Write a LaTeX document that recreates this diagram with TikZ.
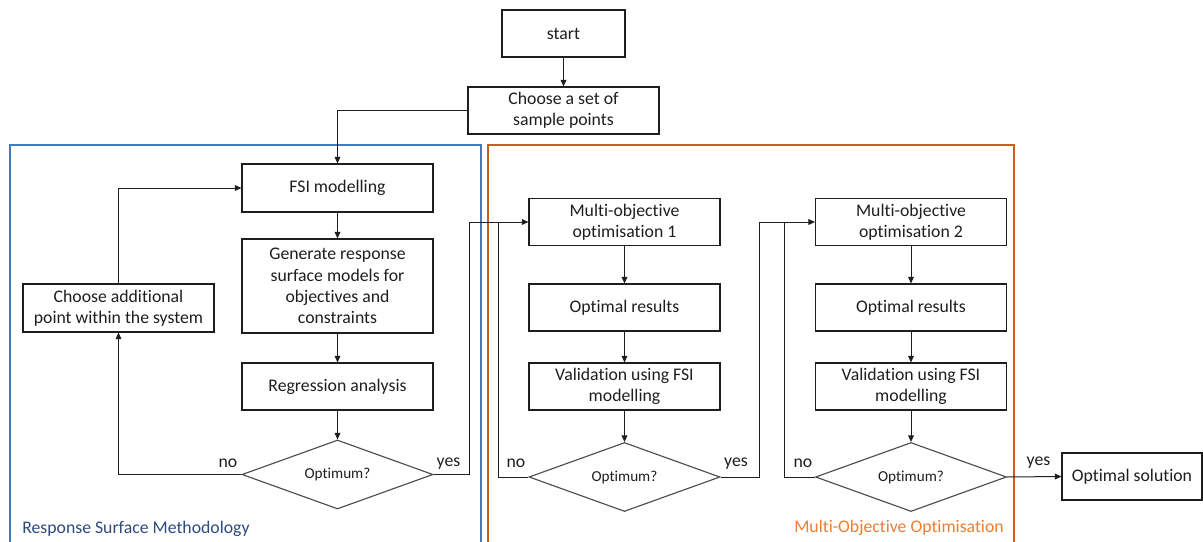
\documentclass[tikz,border=0pt]{standalone}
\usepackage{fontspec}
\setmainfont{Carlito}[Ligatures=NoCommon]
\usetikzlibrary{arrows.meta,shapes.geometric}
\definecolor{rsmframe}{HTML}{3E7CC2}
\definecolor{rsmtext}{HTML}{2F4A7C}
\definecolor{mooframe}{HTML}{C8601A}
\definecolor{mootext}{HTML}{ED7D31}
\definecolor{ink}{HTML}{1E1E1E}
\begin{document}
\begin{tikzpicture}[x=0.75pt,y=-0.75pt,
  every node/.style={text=ink},
  txt/.style={font=\fontsize{13.3}{16}\selectfont, align=center},
  procbox/.style={txt, draw=ink, line width=0.85pt, rectangle, inner sep=0pt,
    minimum width=191*0.75pt, minimum height=47*0.75pt},
  decision/.style={draw=black!70, line width=0.85pt, diamond, aspect=2.77, inner sep=0pt,
    minimum width=191*0.75pt, minimum height=69*0.75pt,
    font=\fontsize{11.4}{13}\selectfont},
  flow/.style={draw=ink, line width=0.75pt},
  arr/.style={flow, -{Triangle[length=5pt,width=4.4pt]}},
  lbl/.style={font=\fontsize{13.3}{16}\selectfont, anchor=base, inner sep=0pt},
  frame/.style={line width=1.5pt}
]
\useasboundingbox (0,0) rectangle (1203,542);

% group frames (open at the bottom edge of the page)
\draw[frame, draw=rsmframe] (10,545) |- (481,145) -- (481,545);
\draw[frame, draw=mooframe] (488,545) |- (1014,145) -- (1014,545);
\node[lbl, anchor=base west, text=rsmtext] (rsmlabel) at (22,533) {Response Surface Methodology};
\node[lbl, anchor=base east, text=mootext] (moolabel) at (1004,532) {Multi-Objective Optimisation};

% entry
\node[procbox, minimum width=123*0.75pt] (start) at (563.5,33.5) {start};
\node[procbox] (sample) at (563.5,110.5) {Choose a set of\\sample points};

% response surface loop
\node[procbox, minimum height=48*0.75pt] (fsi) at (337.5,188) {FSI modelling};
\node[procbox, minimum height=94*0.75pt] (gen) at (337.5,286) {Generate response\\surface models for\\objectives and\\constraints};
\node[procbox] (reg) at (337.5,386.5) {Regression analysis};
\node[decision] (dec1) at (337.5,474.5) {Optimum?};
\node[procbox, minimum height=48*0.75pt] (add) at (118.5,308) {Choose additional\\point within the system};

% multi-objective stage 1
\node[procbox] (mo1) at (624.5,222) {Multi-objective\\optimisation 1};
\node[procbox] (or1) at (624.5,307.5) {Optimal results};
\node[procbox] (val1) at (624.5,386.5) {Validation using FSI\\modelling};
\node[decision] (dec2) at (624.5,477) {Optimum?};

% multi-objective stage 2
\node[procbox] (mo2) at (911,222) {Multi-objective\\optimisation 2};
\node[procbox] (or2) at (911,307.5) {Optimal results};
\node[procbox] (val2) at (911,386.5) {Validation using FSI\\modelling};
\node[decision] (dec3) at (911,477) {Optimum?};

\node[procbox, minimum width=140*0.75pt] (sol) at (1132,476.5) {Optimal solution};

% routing points
\coordinate (j1) at (469,222);
\coordinate (k1) at (498,222);
\coordinate (j2) at (759,222);
\coordinate (k2) at (784,222);

% connectors
\draw[arr] (start) -- (sample);
\draw[arr] (sample.west) -| (fsi.north);
\draw[arr] (fsi) -- (gen);
\draw[arr] (gen) -- (reg);
\draw[arr] (reg) -- (dec1);
\draw[arr] (dec1.west) -| (add.south);
\draw[arr] (add.north) |- (fsi.west);
\draw[arr] (dec1.east) -| (j1) -- (mo1.west);

\draw[arr] (mo1) -- (or1);
\draw[arr] (or1) -- (val1);
\draw[arr] (val1) -- (dec2);
\draw[flow] (dec2.west) -| (k1);
\draw[arr] (dec2.east) -| (j2) -- (mo2.west);

\draw[arr] (mo2) -- (or2);
\draw[arr] (or2) -- (val2);
\draw[arr] (val2) -- (dec3);
\draw[flow] (dec3.west) -| (k2);
\draw[arr] (dec3.east) -- (sol.west);

% branch labels
\node[lbl] (no1) at (228,467) {no};
\node[lbl] (yes1) at (448.5,466) {yes};
\node[lbl] (no2) at (516,467) {no};
\node[lbl] (yes2) at (736,466) {yes};
\node[lbl] (no3) at (803,467) {no};
\node[lbl] (yes3) at (1038.5,465) {yes};
\end{tikzpicture}
\end{document}
